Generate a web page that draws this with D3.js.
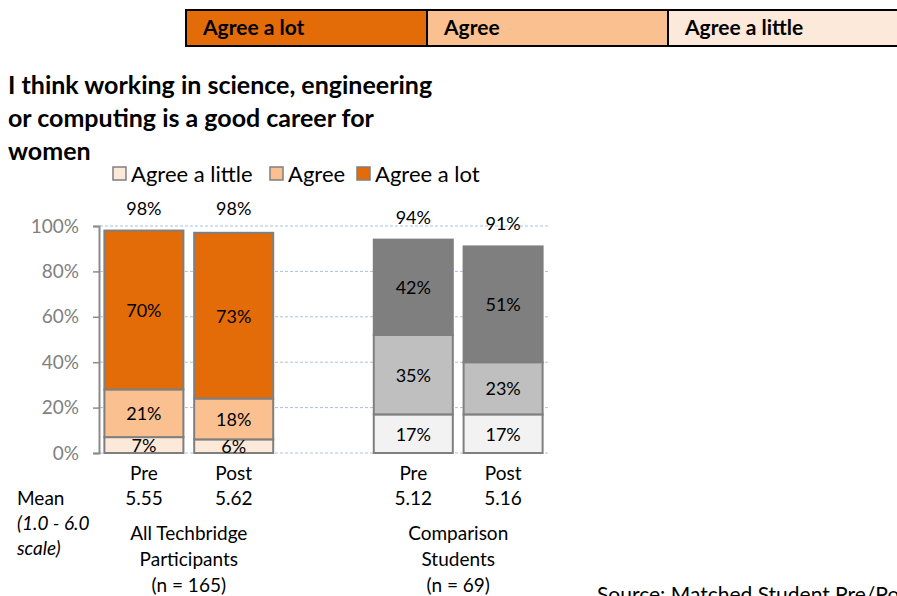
<!DOCTYPE html>
<html>
<head>
<meta charset="utf-8">
<script src="https://cdn.jsdelivr.net/npm/d3@7"></script>
<style>
  html, body { margin: 0; padding: 0; background: #fff; }
  svg { display: block; font-family: Lato, "Open Sans", sans-serif; }
</style>
</head>
<body>
<svg id="chart" width="897" height="596"></svg>
<script>
// Response levels, bottom to top of each stack
const levels = ["Agree a little", "Agree", "Agree a lot"];
// Bars: two groups (Techbridge, Comparison), with an empty slot between them
const bars = ["T-Pre", "T-Post", "gap", "C-Pre", "C-Post"];
const barLabels = ["Pre", "Post", "", "Pre", "Post"];
const meanLabels = ["5.55", "5.62", "", "5.12", "5.16"];
const agreeLittle = [7, 6, null, 17, 17];
const agree = [21, 18, null, 35, 23];
const agreeLot = [70, 73, null, 42, 51];
const totals = [98, 98, null, 94, 91];
const yTicks = [0, 20, 40, 60, 80, 100];

const orangeFills = ["#FDE9D9", "#FAC090", "#E36C09"];
const grayFills = ["#F2F2F2", "#BFBFBF", "#7F7F7F"];

const svg = d3.select("#chart");

// Header key boxes
const header = [
  { label: "Agree a lot", fill: "#E36C09" },
  { label: "Agree", fill: "#FAC090" },
  { label: "Agree a little", fill: "#FDE9D9" }
];
const hx = d3.scaleBand().domain(header.map(d => d.label)).range([186, 909]);
const hg = svg.append("g");
hg.selectAll("rect").data(header).join("rect")
  .attr("x", d => hx(d.label)).attr("y", 10)
  .attr("width", hx.bandwidth()).attr("height", 36)
  .attr("fill", d => d.fill).attr("stroke", "#000").attr("stroke-width", 2);
hg.selectAll("text").data(header).join("text")
  .attr("x", d => hx(d.label) + 17).attr("y", 35)
  .attr("font-size", 21).attr("font-weight", "bold").attr("fill", "#000")
  .text(d => d.label);

// Title
const titleLines = ["I think working in science, engineering", "or computing is a good career for", "women"];
svg.append("g").selectAll("text").data(titleLines).join("text")
  .attr("x", 8).attr("y", (d, i) => 94 + i * 33)
  .attr("font-size", 25).attr("font-weight", "bold").attr("fill", "#000")
  .text(d => d);

// Scales
const x = d3.scaleBand().domain(bars).range([99, 548]).paddingInner(0.12).paddingOuter(0.06);
const y = d3.scaleLinear().domain([0, 100]).range([453, 226]);

// Gridlines
svg.append("g").selectAll("line").data(yTicks).join("line")
  .attr("x1", 100).attr("x2", 548)
  .attr("y1", d => y(d)).attr("y2", d => y(d))
  .attr("stroke", "#A7C2E3").attr("stroke-width", 1).attr("stroke-dasharray", "3,2");

// Y axis
const yAxis = svg.append("g").attr("transform", "translate(99,0)")
  .call(d3.axisLeft(y).tickValues(yTicks).tickFormat(d => d + "%").tickSize(6).tickPadding(14));
yAxis.select(".domain").attr("stroke", "#8C8C8C").attr("stroke-width", 2);
yAxis.selectAll(".tick line").attr("stroke", "#8C8C8C").attr("stroke-width", 1.5);
yAxis.selectAll(".tick text").attr("fill", "#7F7F7F").attr("font-size", 19)
  .attr("font-family", "Lato, 'Open Sans', sans-serif");

// Stacked bars
const rows = bars.map((b, i) => ({ bar: b, i, vals: [agreeLittle[i], agree[i], agreeLot[i]] }))
  .filter(r => r.vals[0] !== null);
const segs = [];
rows.forEach(r => {
  let base = 0;
  r.vals.forEach((v, k) => {
    segs.push({ bar: r.bar, i: r.i, k, y0: base, y1: base + v, v });
    base += v;
  });
});
const barG = svg.append("g");
barG.selectAll("rect").data(segs).join("rect")
  .attr("x", d => x(d.bar)).attr("width", x.bandwidth())
  .attr("y", d => y(d.y1)).attr("height", d => y(d.y0) - y(d.y1))
  .attr("fill", d => (d.bar.startsWith("T") ? orangeFills : grayFills)[d.k])
  .attr("stroke", "#7F7F7F").attr("stroke-width", 2);
barG.selectAll("text").data(segs).join("text")
  .attr("x", d => x(d.bar) + x.bandwidth() / 2)
  .attr("y", d => (y(d.y0) + y(d.y1)) / 2 + 7)
  .attr("text-anchor", "middle").attr("font-size", 18).attr("fill", "#000")
  .text(d => d.v + "%");

// Totals above bars
svg.append("g").selectAll("text").data(rows).join("text")
  .attr("x", d => x(d.bar) + x.bandwidth() / 2)
  .attr("y", d => y(totals[d.i]) - 16)
  .attr("text-anchor", "middle").attr("font-size", 18).attr("fill", "#000")
  .text(d => totals[d.i] + "%");

// Legend
const legend = svg.append("g");
const legX = [113, 270, 357];
levels.forEach((l, k) => {
  legend.append("rect").attr("x", legX[k]).attr("y", 167).attr("width", 13).attr("height", 13)
    .attr("fill", orangeFills[k]).attr("stroke", "#7F7F7F").attr("stroke-width", 1.5);
  legend.append("text").attr("x", legX[k] + 18).attr("y", 182)
    .attr("font-size", 22).attr("fill", "#000").text(l);
});

// Category labels: Pre/Post and means
const cat = svg.append("g");
rows.forEach(r => {
  const cx = x(r.bar) + x.bandwidth() / 2;
  cat.append("text").attr("x", cx).attr("y", 480).attr("text-anchor", "middle")
    .attr("font-size", 19).attr("fill", "#000").text(barLabels[r.i]);
  cat.append("text").attr("x", cx).attr("y", 505).attr("text-anchor", "middle")
    .attr("font-size", 19).attr("fill", "#000").text(meanLabels[r.i]);
});
cat.append("text").attr("x", 17).attr("y", 505).attr("font-size", 19).attr("fill", "#000").text("Mean");
cat.append("text").attr("x", 17).attr("y", 530).attr("font-size", 19).attr("font-style", "italic")
  .attr("fill", "#000").text("(1.0 - 6.0");
cat.append("text").attr("x", 17).attr("y", 555).attr("font-size", 19).attr("font-style", "italic")
  .attr("fill", "#000").text("scale)");

// Group labels
const groups = [
  { lines: ["All Techbridge", "Participants", "(n = 165)"], a: "T-Pre", b: "T-Post" },
  { lines: ["Comparison", "Students", "(n = 69)"], a: "C-Pre", b: "C-Post" }
];
groups.forEach(g => {
  const cx = (x(g.a) + x(g.b) + x.bandwidth()) / 2;
  g.lines.forEach((t, j) => {
    cat.append("text").attr("x", cx).attr("y", 540 + j * 26).attr("text-anchor", "middle")
      .attr("font-size", 19).attr("fill", "#000").text(t);
  });
});

// Source note
svg.append("text").attr("x", 597).attr("y", 602).attr("font-size", 21).attr("fill", "#000")
  .text("Source: Matched Student Pre/Post Surveys");
</script>
</body>
</html>
